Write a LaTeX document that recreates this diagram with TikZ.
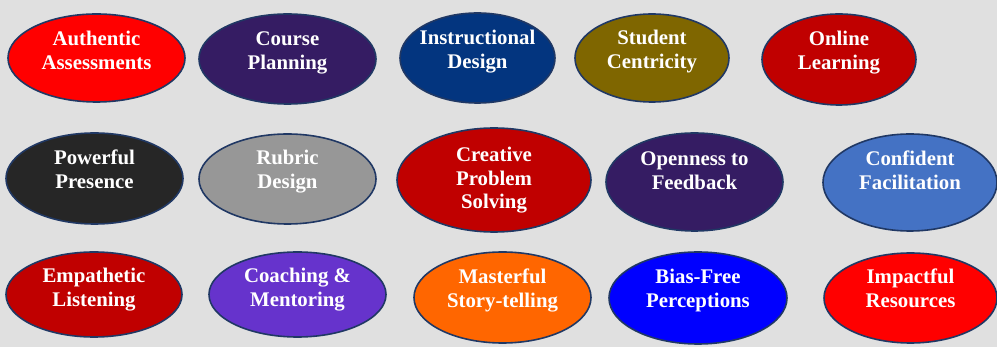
\documentclass[tikz,border=0pt]{standalone}
\usepackage{fontspec}
\setmainfont{Liberation Serif}
\usetikzlibrary{shapes.geometric}
\definecolor{bgray}{HTML}{E0E0E0}
\definecolor{rim}{HTML}{203864}
\definecolor{brightred}{HTML}{FF0000}
\definecolor{darkred}{HTML}{C00000}
\definecolor{plum}{HTML}{351C63}
\definecolor{navy}{HTML}{03357F}
\definecolor{olive}{HTML}{7F6600}
\definecolor{coal}{HTML}{262626}
\definecolor{stone}{HTML}{979797}
\definecolor{sky}{HTML}{4472C4}
\definecolor{violet}{HTML}{6633CC}
\definecolor{tangerine}{HTML}{FF6600}
\definecolor{pureblue}{HTML}{0000FF}
\tikzset{oval/.style={ellipse,draw=rim,line width=1.6pt,inner sep=0pt}, lbl/.style={anchor=base,align=center,text=white,font=\fontsize{20.8}{23.3}\selectfont\bfseries}}
\begin{document}
\begin{tikzpicture}[x=1pt,y=-1pt]
\fill[bgray] (0,0) rectangle (997,347);
\useasboundingbox (0,0) rectangle (997,347);
\node[oval,fill=brightred,minimum width=177pt,minimum height=88pt] (auth) at (96.5,58) {};
\node[oval,fill=plum,minimum width=177pt,minimum height=90pt] (course) at (287.5,59) {};
\node[oval,fill=navy,minimum width=155pt,minimum height=90pt] (instr) at (477.5,58) {};
\node[oval,fill=olive,minimum width=154pt,minimum height=88pt] (student) at (652,58) {};
\node[oval,fill=darkred,minimum width=154pt,minimum height=91pt] (online) at (839,59.5) {};
\node[oval,fill=coal,minimum width=177pt,minimum height=91pt] (power) at (94.5,178.5) {};
\node[oval,fill=stone,minimum width=177pt,minimum height=90pt] (rubric) at (287.5,179) {};
\node[oval,fill=darkred,minimum width=194pt,minimum height=104pt] (creative) at (494,180) {};
\node[oval,fill=plum,minimum width=177pt,minimum height=98pt] (open) at (694.5,182) {};
\node[oval,fill=sky,minimum width=174pt,minimum height=97pt] (confid) at (910,182.5) {};
\node[oval,fill=darkred,minimum width=176pt,minimum height=85pt] (empath) at (94,294.5) {};
\node[oval,fill=violet,minimum width=177pt,minimum height=85pt] (coach) at (297.5,294.5) {};
\node[oval,fill=tangerine,minimum width=177pt,minimum height=91pt] (master) at (502.5,297.5) {};
\node[oval,fill=pureblue,minimum width=178pt,minimum height=92pt] (bias) at (698,298) {};
\node[oval,fill=brightred,minimum width=173pt,minimum height=90pt] (impact) at (910.5,298) {};
\node[lbl] (authtxt) at ([yshift=-11.3pt]auth.center) {Authentic\\Assessments};
\node[lbl] (coursetxt) at ([yshift=-10.3pt]course.center) {Course\\Planning};
\node[lbl] (instrtxt) at ([yshift=-10.3pt]instr.center) {Instructional\\Design};
\node[lbl] (studenttxt) at ([yshift=-10.3pt]student.center) {Student\\Centricity};
\node[lbl] (onlinetxt) at ([yshift=-9.8pt]online.center) {Online\\Learning};
\node[lbl] (powertxt) at ([yshift=-9.8pt]power.center) {Powerful\\Presence};
\node[lbl] (rubrictxt) at ([yshift=-9.3pt]rubric.center) {Rubric\\Design};
\node[lbl] (creativetxt) at ([yshift=-28.6pt]creative.center) {Creative\\Problem\\Solving};
\node[lbl] (opentxt) at ([yshift=-7.3pt]open.center) {Openness to\\Feedback};
\node[lbl] (confidtxt) at ([yshift=-6.8pt]confid.center) {Confident\\Facilitation};
\node[lbl] (empathtxt) at ([yshift=-11.8pt]empath.center) {Empathetic\\Listening};
\node[lbl] (coachtxt) at ([yshift=-11.8pt]coach.center) {Coaching \&\\Mentoring};
\node[lbl] (mastertxt) at ([yshift=-9.8pt]master.center) {Masterful\\Story-telling};
\node[lbl] (biastxt) at ([yshift=-9.3pt]bias.center) {Bias-Free\\Perceptions};
\node[lbl] (impacttxt) at ([yshift=-9.3pt]impact.center) {Impactful\\Resources};
\end{tikzpicture}
\end{document}
